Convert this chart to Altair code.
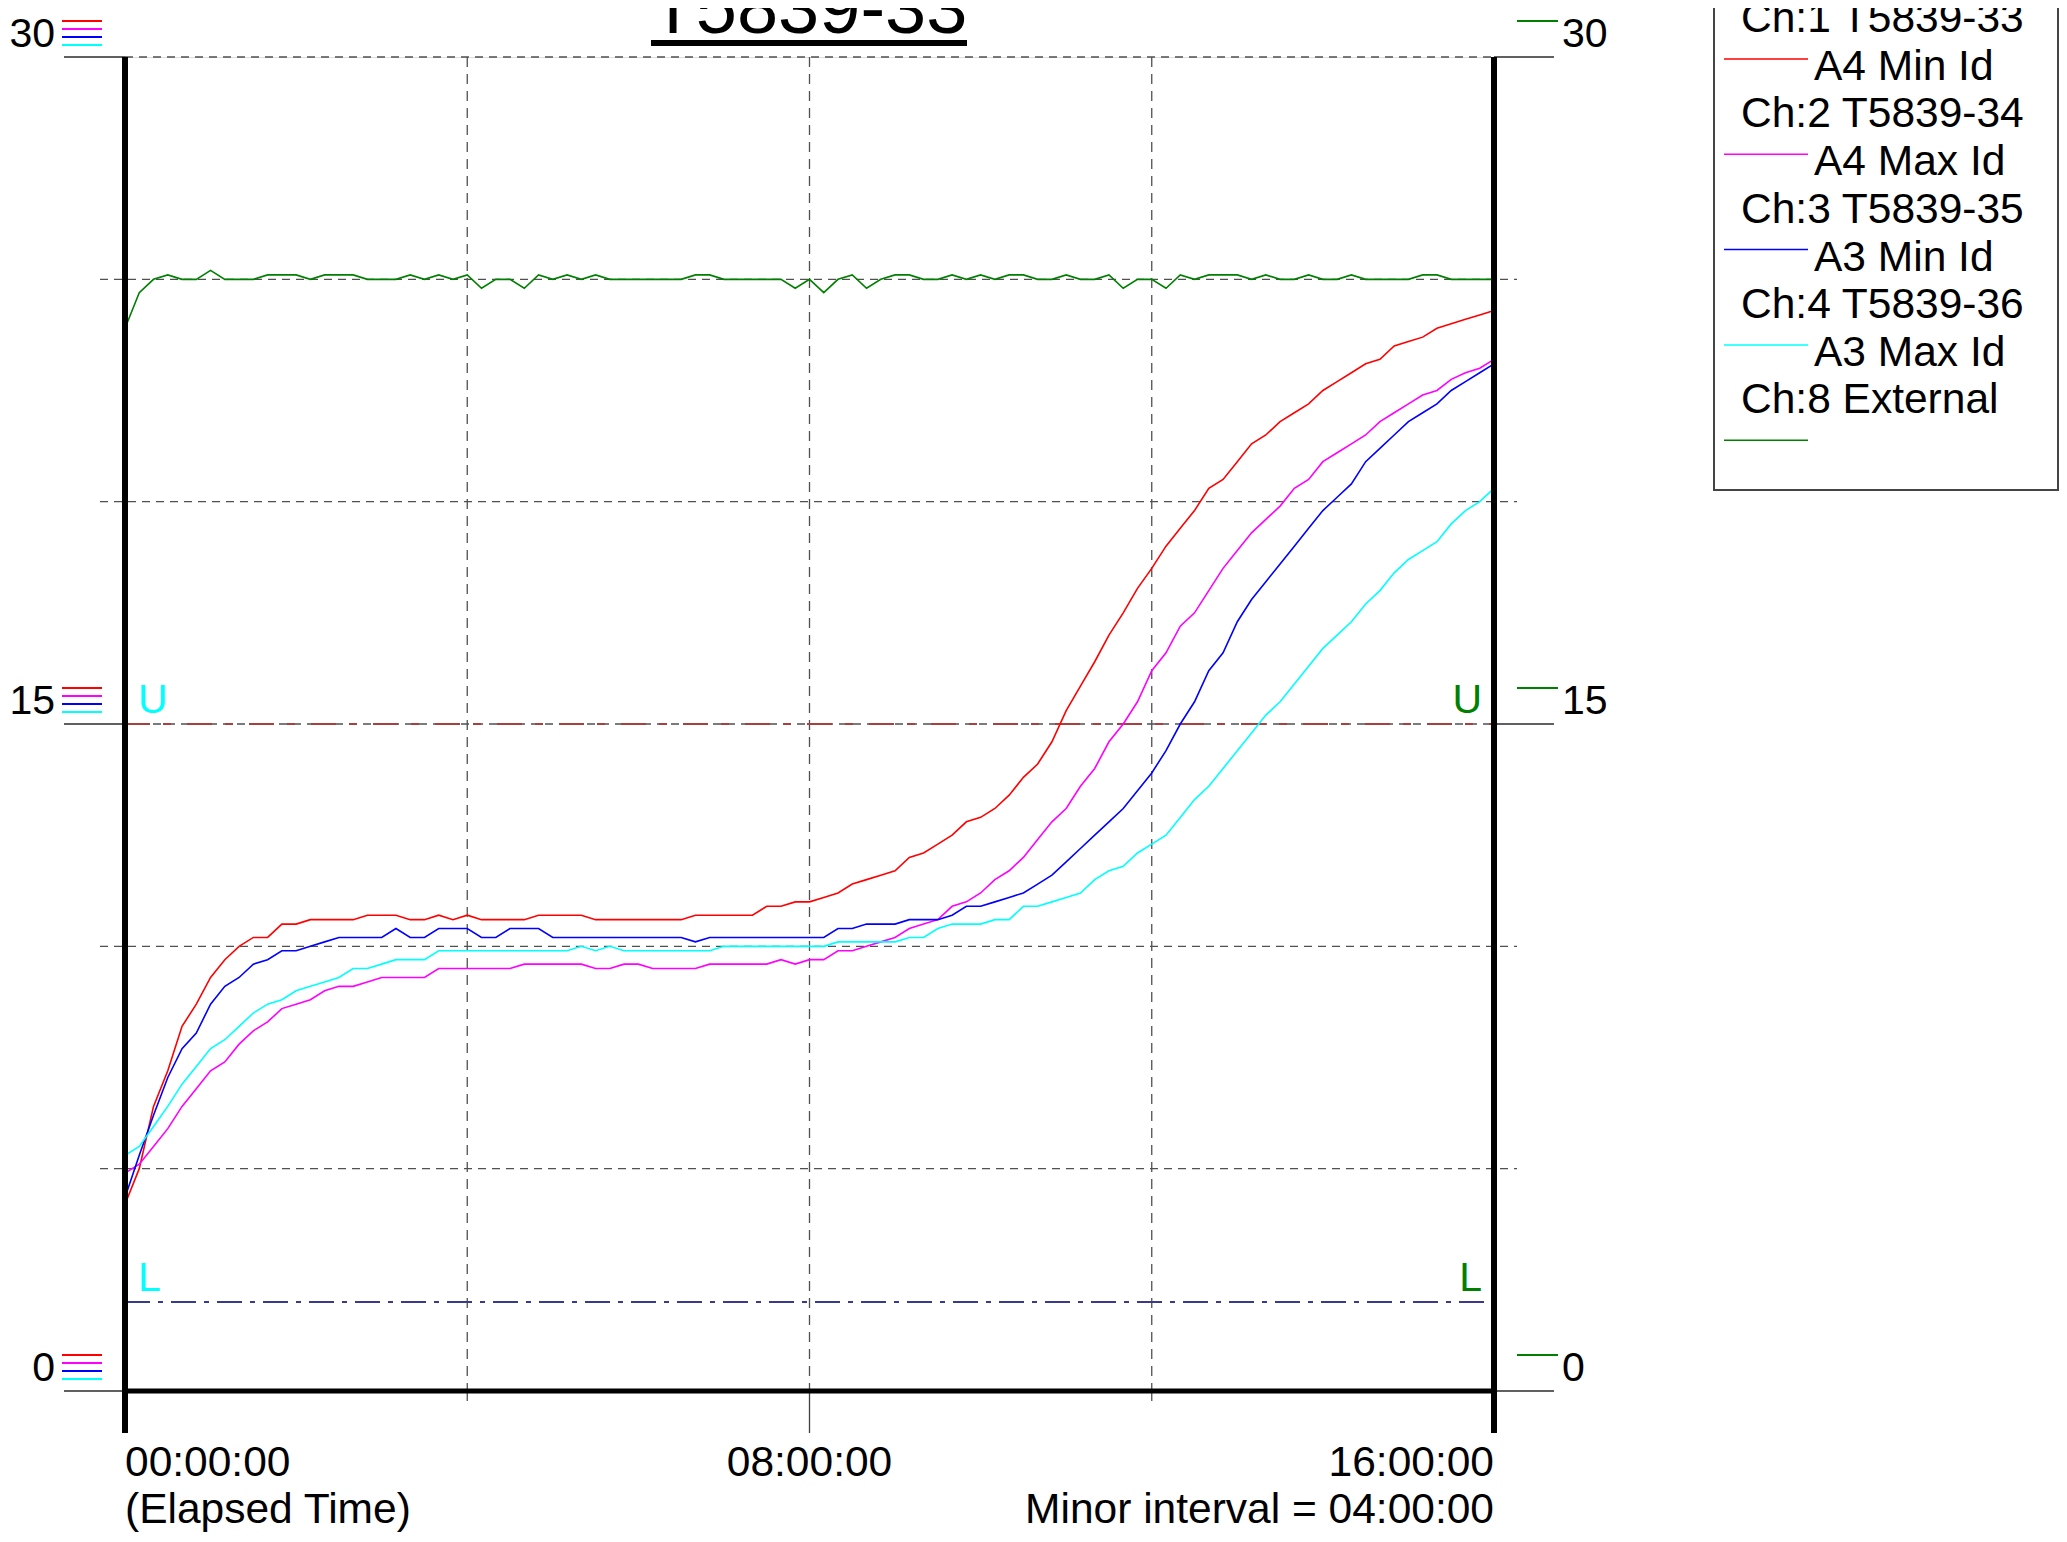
import altair as alt
import pandas as pd

FONT = "Liberation Sans"

# ---------------- data ----------------
minutes = list(range(0, 961, 10))          # elapsed time, 10-minute samples
hours = [m / 60 for m in minutes]

series_names = ["A4 Min Id", "A4 Max Id", "A3 Min Id", "A3 Max Id", "External"]
series_colors = ["#ff0000", "#ff00ff", "#0000ff", "#00ffff", "#008000"]

red = [4.2, 5.0, 6.4, 7.2, 8.2, 8.7, 9.3, 9.7, 10.0, 10.2,
       10.2, 10.5, 10.5, 10.6, 10.6, 10.6, 10.6, 10.7, 10.7, 10.7,
       10.6, 10.6, 10.7, 10.6, 10.7, 10.6, 10.6, 10.6, 10.6, 10.7,
       10.7, 10.7, 10.7, 10.6, 10.6, 10.6, 10.6, 10.6, 10.6, 10.6,
       10.7, 10.7, 10.7, 10.7, 10.7, 10.9, 10.9, 11.0, 11.0, 11.1,
       11.2, 11.4, 11.5, 11.6, 11.7, 12.0, 12.1, 12.3, 12.5, 12.8,
       12.9, 13.1, 13.4, 13.8, 14.1, 14.6, 15.3, 15.85, 16.4, 17.0,
       17.5, 18.05, 18.5, 19.0, 19.4, 19.8, 20.3, 20.5, 20.9, 21.3,
       21.5, 21.8, 22.0, 22.2, 22.5, 22.7, 22.9, 23.1, 23.2, 23.5,
       23.6, 23.7, 23.9, 24.0, 24.1, 24.2, 24.3]

magenta = [4.9, 5.1, 5.5, 5.9, 6.4, 6.8, 7.2, 7.4, 7.8, 8.1,
           8.3, 8.6, 8.7, 8.8, 9.0, 9.1, 9.1, 9.2, 9.3, 9.3,
           9.3, 9.3, 9.5, 9.5, 9.5, 9.5, 9.5, 9.5, 9.6, 9.6,
           9.6, 9.6, 9.6, 9.5, 9.5, 9.6, 9.6, 9.5, 9.5, 9.5,
           9.5, 9.6, 9.6, 9.6, 9.6, 9.6, 9.7, 9.6, 9.7, 9.7,
           9.9, 9.9, 10.0, 10.1, 10.2, 10.4, 10.5, 10.6, 10.9, 11.0,
           11.2, 11.5, 11.7, 12.0, 12.4, 12.8, 13.1, 13.6, 14.0, 14.6,
           15.0, 15.5, 16.2, 16.6, 17.2, 17.5, 18.0, 18.5, 18.9, 19.3,
           19.6, 19.9, 20.3, 20.5, 20.9, 21.1, 21.3, 21.5, 21.8, 22.0,
           22.2, 22.4, 22.5, 22.75, 22.9, 23.0, 23.2]

blue = [4.35, 5.3, 6.2, 7.05, 7.7, 8.05, 8.7, 9.1, 9.3, 9.6,
        9.7, 9.9, 9.9, 10.0, 10.1, 10.2, 10.2, 10.2, 10.2, 10.4,
        10.2, 10.2, 10.4, 10.4, 10.4, 10.2, 10.2, 10.4, 10.4, 10.4,
        10.2, 10.2, 10.2, 10.2, 10.2, 10.2, 10.2, 10.2, 10.2, 10.2,
        10.1, 10.2, 10.2, 10.2, 10.2, 10.2, 10.2, 10.2, 10.2, 10.2,
        10.4, 10.4, 10.5, 10.5, 10.5, 10.6, 10.6, 10.6, 10.7, 10.9,
        10.9, 11.0, 11.1, 11.2, 11.4, 11.6, 11.9, 12.2, 12.5, 12.8,
        13.1, 13.5, 13.9, 14.4, 15.0, 15.5, 16.2, 16.6, 17.3, 17.8,
        18.2, 18.6, 19.0, 19.4, 19.8, 20.1, 20.4, 20.9, 21.2, 21.5,
        21.8, 22.0, 22.2, 22.5, 22.7, 22.9, 23.1]

cyan = [5.3, 5.5, 5.95, 6.4, 6.9, 7.3, 7.7, 7.9, 8.2, 8.5,
        8.7, 8.8, 9.0, 9.1, 9.2, 9.3, 9.5, 9.5, 9.6, 9.7,
        9.7, 9.7, 9.9, 9.9, 9.9, 9.9, 9.9, 9.9, 9.9, 9.9,
        9.9, 9.9, 10.0, 9.9, 10.0, 9.9, 9.9, 9.9, 9.9, 9.9,
        9.9, 9.9, 10.0, 10.0, 10.0, 10.0, 10.0, 10.0, 10.0, 10.0,
        10.1, 10.1, 10.1, 10.1, 10.1, 10.2, 10.2, 10.4, 10.5, 10.5,
        10.5, 10.6, 10.6, 10.9, 10.9, 11.0, 11.1, 11.2, 11.5, 11.7,
        11.8, 12.1, 12.3, 12.5, 12.9, 13.3, 13.6, 14.0, 14.4, 14.8,
        15.2, 15.5, 15.9, 16.3, 16.7, 17.0, 17.3, 17.7, 18.0, 18.4,
        18.7, 18.9, 19.1, 19.5, 19.8, 20.0, 20.3]

green = [23.9, 24.7, 25.0, 25.1, 25.0, 25.0, 25.2, 25.0, 25.0, 25.0,
         25.1, 25.1, 25.1, 25.0, 25.1, 25.1, 25.1, 25.0, 25.0, 25.0,
         25.1, 25.0, 25.1, 25.0, 25.1, 24.8, 25.0, 25.0, 24.8, 25.1,
         25.0, 25.1, 25.0, 25.1, 25.0, 25.0, 25.0, 25.0, 25.0, 25.0,
         25.1, 25.1, 25.0, 25.0, 25.0, 25.0, 25.0, 24.8, 25.0, 24.7,
         25.0, 25.1, 24.8, 25.0, 25.1, 25.1, 25.0, 25.0, 25.1, 25.0,
         25.1, 25.0, 25.1, 25.1, 25.0, 25.0, 25.1, 25.0, 25.0, 25.1,
         24.8, 25.0, 25.0, 24.8, 25.1, 25.0, 25.1, 25.1, 25.1, 25.0,
         25.1, 25.0, 25.0, 25.1, 25.0, 25.0, 25.1, 25.0, 25.0, 25.0,
         25.0, 25.1, 25.1, 25.0, 25.0, 25.0, 25.0]

labeled_y = [0, 15, 30]
labeled_y_text = ["0", "15", "30"]
minor_grid_y = [5, 10, 20, 25]
inner_grid_y = [15, 30]
grid_x = [4, 8, 12]
minor_tick_x = [4, 12]
major_tick_x = [8]
upper_limit = [15]
lower_limit = [2]

legend_channels = ["Ch:1 T5839-33", "Ch:2 T5839-34", "Ch:3 T5839-35",
                   "Ch:4 T5839-36", "Ch:8 External"]
legend_names = ["A4 Min Id", "A4 Max Id", "A3 Min Id", "A3 Max Id", ""]

title_text = "T5839-33"

# ---------------- layout ----------------
PW, PH = 1369, 1334
xs = alt.Scale(domain=[0, 16], nice=False, zero=False)
ys = alt.Scale(domain=[0, 30], nice=False, zero=False)
one = pd.DataFrame({"a": [0]})
FS = 42.5

values, names, hrs = [], [], []
for nm, arr in zip(series_names, [red, magenta, blue, cyan, green]):
    values += arr
    names += [nm] * len(arr)
    hrs += hours
lines_df = pd.DataFrame({"hours": hrs, "value": values, "series": names})

GRID = "#505050"
layers = []

# horizontal gridlines
layers.append(alt.Chart(pd.DataFrame({"v": minor_grid_y})).mark_rule(
    color=GRID, strokeWidth=1.3, strokeDash=[8, 6]).encode(
    y=alt.Y("v:Q", scale=ys, axis=None), x=alt.value(-25), x2=alt.value(PW + 23)))
layers.append(alt.Chart(pd.DataFrame({"v": inner_grid_y})).mark_rule(
    color=GRID, strokeWidth=1.3, strokeDash=[8, 6]).encode(
    y=alt.Y("v:Q", scale=ys, axis=None), x=alt.value(0), x2=alt.value(PW)))
# vertical gridlines
layers.append(alt.Chart(pd.DataFrame({"h": grid_x})).mark_rule(
    color=GRID, strokeWidth=1.3, strokeDash=[10, 7]).encode(
    x=alt.X("h:Q", scale=xs, axis=None), y=alt.value(0), y2=alt.value(PH)))
layers.append(alt.Chart(pd.DataFrame({"h": minor_tick_x})).mark_rule(
    color=GRID, strokeWidth=1.3, strokeDash=[10, 7]).encode(
    x=alt.X("h:Q", scale=xs, axis=None), y=alt.value(PH), y2=alt.value(PH + 16)))
layers.append(alt.Chart(pd.DataFrame({"h": major_tick_x})).mark_rule(
    color="#404040", strokeWidth=1.3).encode(
    x=alt.X("h:Q", scale=xs, axis=None), y=alt.value(PH), y2=alt.value(PH + 42)))

# y ticks (left and right)
ydf = pd.DataFrame({"v": labeled_y, "lab": labeled_y_text})
layers.append(alt.Chart(ydf).mark_rule(color="#606060", strokeWidth=2).encode(
    y=alt.Y("v:Q", scale=ys, axis=None), x=alt.value(-61), x2=alt.value(0)))
layers.append(alt.Chart(ydf).mark_rule(color="#606060", strokeWidth=2).encode(
    y=alt.Y("v:Q", scale=ys, axis=None), x=alt.value(PW), x2=alt.value(PW + 60)))
layers.append(alt.Chart(ydf).mark_text(
    font=FONT, fontSize=41, align="right", baseline="alphabetic", dy=-10, color="black").encode(
    y=alt.Y("v:Q", scale=ys, axis=None), x=alt.value(-70), text="lab:N"))
layers.append(alt.Chart(ydf).mark_text(
    font=FONT, fontSize=41, align="left", baseline="alphabetic", dy=-10, color="black").encode(
    y=alt.Y("v:Q", scale=ys, axis=None), x=alt.value(PW + 68), text="lab:N"))
for off, col in zip([-36, -28, -20, -12], series_colors[:4]):
    layers.append(alt.Chart(ydf).mark_rule(color=col, strokeWidth=2, yOffset=off).encode(
        y=alt.Y("v:Q", scale=ys, axis=None), x=alt.value(-63), x2=alt.value(-23)))
layers.append(alt.Chart(ydf).mark_rule(color=series_colors[4], strokeWidth=2, yOffset=-36).encode(
    y=alt.Y("v:Q", scale=ys, axis=None), x=alt.value(PW + 23), x2=alt.value(PW + 64)))

# limit lines
layers.append(alt.Chart(pd.DataFrame({"v": upper_limit})).mark_rule(
    color="#a84040", strokeWidth=2, strokeDash=[25, 13, 8, 16]).encode(
    y=alt.Y("v:Q", scale=ys, axis=None), x=alt.value(0), x2=alt.value(PW)))
layers.append(alt.Chart(pd.DataFrame({"v": lower_limit})).mark_rule(
    color="#3a3a8c", strokeWidth=2, strokeDash=[25, 8, 5, 8]).encode(
    y=alt.Y("v:Q", scale=ys, axis=None), x=alt.value(0), x2=alt.value(PW)))
for lim, letter in [(upper_limit, "U"), (lower_limit, "L")]:
    ldf = pd.DataFrame({"v": lim, "t": [letter]})
    layers.append(alt.Chart(ldf).mark_text(
        font=FONT, fontSize=41, align="left", baseline="alphabetic", dy=-11, color="#00ffff").encode(
        y=alt.Y("v:Q", scale=ys, axis=None), x=alt.value(13), text="t:N"))
    layers.append(alt.Chart(ldf).mark_text(
        font=FONT, fontSize=41, align="right", baseline="alphabetic", dy=-11, color="#008000").encode(
        y=alt.Y("v:Q", scale=ys, axis=None), x=alt.value(PW - 12), text="t:N"))

# data lines
layers.append(alt.Chart(lines_df).mark_line(strokeWidth=1.6).encode(
    x=alt.X("hours:Q", scale=xs, axis=None),
    y=alt.Y("value:Q", scale=ys, axis=None),
    color=alt.Color("series:N", scale=alt.Scale(domain=series_names, range=series_colors), legend=None)))

# frame
layers.append(alt.Chart(one).mark_rule(color="black", strokeWidth=6).encode(
    x=alt.value(0), y=alt.value(0), y2=alt.value(PH + 42)))
layers.append(alt.Chart(one).mark_rule(color="black", strokeWidth=6).encode(
    x=alt.value(PW), y=alt.value(0), y2=alt.value(PH + 42)))
layers.append(alt.Chart(one).mark_rule(color="black", strokeWidth=5).encode(
    y=alt.value(PH), x=alt.value(0), x2=alt.value(PW)))

# x labels
layers.append(alt.Chart(one).mark_text(font=FONT, fontSize=FS, align="left", baseline="alphabetic",
                                       text="00:00:00").encode(x=alt.value(0), y=alt.value(PH + 85)))
layers.append(alt.Chart(one).mark_text(font=FONT, fontSize=FS, align="center", baseline="alphabetic",
                                       text="08:00:00").encode(x=alt.value(PW / 2), y=alt.value(PH + 85)))
layers.append(alt.Chart(one).mark_text(font=FONT, fontSize=FS, align="right", baseline="alphabetic",
                                       text="16:00:00").encode(x=alt.value(PW), y=alt.value(PH + 85)))
layers.append(alt.Chart(one).mark_text(font=FONT, fontSize=FS, align="left", baseline="alphabetic",
                                       text="(Elapsed Time)").encode(x=alt.value(0), y=alt.value(PH + 132)))
layers.append(alt.Chart(one).mark_text(font=FONT, fontSize=FS, align="right", baseline="alphabetic",
                                       text="Minor interval = 04:00:00").encode(x=alt.value(PW), y=alt.value(PH + 132)))

# title
layers.append(alt.Chart(one).mark_text(font=FONT, fontSize=74, align="center", baseline="alphabetic",
                                       text=title_text).encode(x=alt.value(684), y=alt.value(-24)))
layers.append(alt.Chart(one).mark_rule(color="black", strokeWidth=6).encode(
    x=alt.value(526), x2=alt.value(842), y=alt.value(-14)))

# legend box
LX = 1589
layers.append(alt.Chart(one).mark_rect(fillOpacity=0, stroke="#444444", strokeWidth=2).encode(
    x=alt.value(LX), x2=alt.value(1933), y=alt.value(-100), y2=alt.value(433)))
step = 95.3
for i, (ch, nm, col) in enumerate(zip(legend_channels, legend_names, series_colors)):
    layers.append(alt.Chart(one).mark_text(font=FONT, fontSize=FS, align="left", baseline="alphabetic",
                                           text=ch).encode(x=alt.value(1616), y=alt.value(-25 + step * i)))
    layers.append(alt.Chart(one).mark_rule(color=col, strokeWidth=1.5).encode(
        x=alt.value(1599), x2=alt.value(1683), y=alt.value(2 + step * i)))
    if nm:
        layers.append(alt.Chart(one).mark_text(font=FONT, fontSize=FS, align="left", baseline="alphabetic",
                                               text=nm).encode(x=alt.value(1689), y=alt.value(23 + step * i)))

chart = alt.layer(*layers).properties(
    width=PW, height=PH,
    padding={"left": 117, "top": 49, "right": 565, "bottom": 143},
    autosize=alt.AutoSizeParams(type="none"),
).configure_view(stroke=None).configure(background="white")

chart.save("out.html", embed_options={"renderer": "svg", "actions": False})
